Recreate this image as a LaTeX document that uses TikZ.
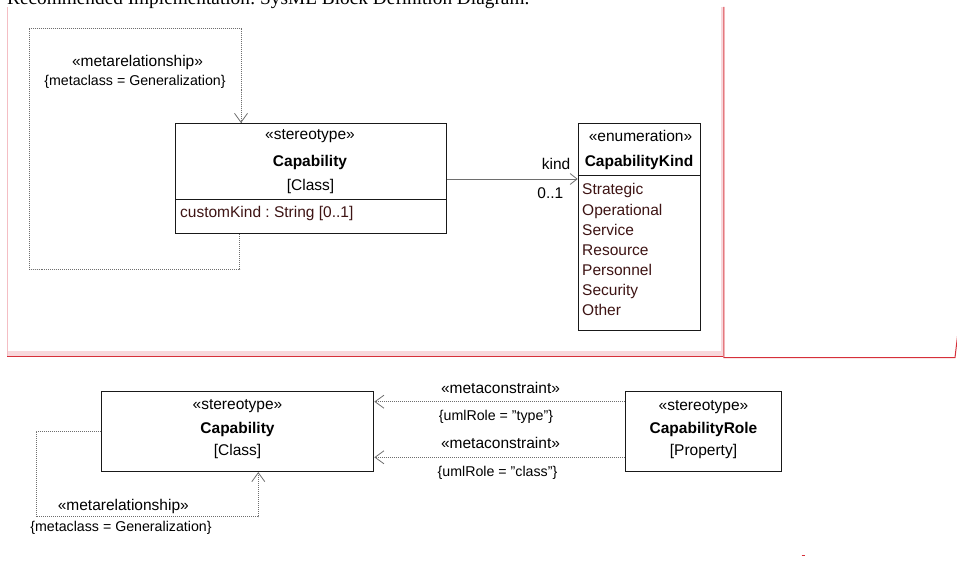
\documentclass[tikz,border=0pt]{standalone}
\usepackage{fontspec}
\setmainfont{Liberation Sans}
\newfontfamily\titlefont{Liberation Serif}
\usetikzlibrary{arrows.meta}
\definecolor{framered}{RGB}{214,48,58}
\definecolor{framepink}{RGB}{244,190,196}
\definecolor{bandpink}{RGB}{248,216,220}
\definecolor{lit}{RGB}{62,20,20}
\definecolor{conn}{RGB}{110,110,110}
\newcommand{\sq}{\symbol{34}}
\frenchspacing
\tikzset{
  box/.style={draw=black!90, line width=1pt, fill=white, inner sep=0pt},
  txt/.style={inner sep=0pt, font=\fontsize{15.5}{18}\selectfont},
  btxt/.style={inner sep=0pt, font=\fontsize{15.5}{18}\selectfont\bfseries},
  stxt/.style={inner sep=0pt, font=\fontsize{14.2}{17}\selectfont},
  littxt/.style={inner sep=0pt, font=\fontsize{15.5}{18}\selectfont, text=lit, anchor=base west},
  dotline/.style={draw=conn, line width=0.8pt, dash pattern=on 1pt off 1pt},
  barb/.style={-{Straight Barb[length=9pt,width=13pt,line width=0.8pt]}},
  assoc/.style={draw=conn, line width=0.9pt, -{Straight Barb[length=7pt,width=11pt,line width=0.8pt]}}
}
\begin{document}
\begin{tikzpicture}[x=1pt,y=-1pt]
\useasboundingbox (0,0) rectangle (957,561);
\clip (0,0) rectangle (957,561);
% title
\node[inner sep=0pt, anchor=base west, font=\titlefont\fontsize{19.3}{22}\selectfont] (title) at (7,5) {Recommended Implementation: SysML Block Definition Diagram.};
% frame
\fill[bandpink] (7,351) rectangle (723,356);
\fill[bandpink] (721,7) rectangle (723,351);
\draw[framepink, line width=0.9pt] (7,7) -- (7,357);
\draw[framered, line width=1pt] (7,356.5) -- (723,356.5);
\draw[framered, line width=1pt] (723.8,7) -- (723.8,357.5) -- (955,357.5) -- (957.5,336);
\draw[framered, line width=1pt] (801.5,555) -- (804.5,555);

% ---------- top diagram ----------
\node[box, minimum width=271pt, minimum height=110pt, anchor=north west] (cap1) at (175,123) {};
\draw[black!90, line width=1pt] (175,200) -- (446,200);
\node[txt, anchor=base] (cap1st) at (310,140) {«stereotype»};
\node[btxt, anchor=base] (cap1nm) at (310,166.7) {Capability};
\node[txt, anchor=base] (cap1mc) at (310.5,190.7) {[Class]};
\node[littxt] (cap1at) at (180,218) {customKind : String [0..1]};

\node[box, minimum width=122.6pt, minimum height=207pt, anchor=north west] (kind) at (577.7,123) {};
\draw[black!90, line width=1pt] (577.7,176) -- (700.3,176);
\node[txt, anchor=base] (kindst) at (640.5,141.7) {«enumeration»};
\node[btxt, anchor=base] (kindnm) at (639,166.7) {CapabilityKind};
\node[littxt] (l1) at (582,195) {Strategic};
\node[littxt] (l2) at (582,215) {Operational};
\node[littxt] (l3) at (582,235) {Service};
\node[littxt] (l4) at (582,255) {Resource};
\node[littxt] (l5) at (582,275) {Personnel};
\node[littxt] (l6) at (582,295) {Security};
\node[littxt] (l7) at (582,315.5) {Other};

\draw[assoc] (cap1.east |- 0,179) -- (kind.west |- 0,179);
\node[txt, anchor=base east] (kindlbl) at (570.5,169.3) {kind};
\node[txt, anchor=base east] (mult) at (563.5,198.3) {0..1};

\coordinate (g1a) at (29,269);
\coordinate (g1b) at (29,28);
\draw[dotline, barb] ([xshift=64.5pt]cap1.south west) |- (g1a) -- (g1b) -| ([xshift=66pt]cap1.north west);
\node[txt, anchor=base] (g1st) at (137.5,66.5) {«metarelationship»};
\node[stxt, anchor=base] (g1mc) at (135,86) {\{metaclass = Generalization\}};

% ---------- bottom diagram ----------
\node[box, minimum width=272.3pt, minimum height=80pt, anchor=north west] (cap2) at (101,391) {};
\node[txt, anchor=base] (cap2st) at (237.5,409.3) {«stereotype»};
\node[btxt, anchor=base] (cap2nm) at (237.5,433.3) {Capability};
\node[txt, anchor=base] (cap2mc) at (237.5,455.7) {[Class]};

\node[box, minimum width=156pt, minimum height=80pt, anchor=north west] (role) at (625,391) {};
\node[txt, anchor=base] (rolest) at (703.5,410) {«stereotype»};
\node[btxt, anchor=base] (rolenm) at (703.5,433.3) {CapabilityRole};
\node[txt, anchor=base] (rolemc) at (703.5,455.7) {[Property]};

\draw[dotline, barb] (role.west |- 0,401.7) -- (cap2.east |- 0,401.7);
\draw[dotline, barb] (role.west |- 0,457.3) -- (cap2.east |- 0,457.3);
\node[txt, anchor=base] (mc1) at (500.5,393.3) {«metaconstraint»};
\node[stxt, anchor=base] (mc1v) at (496,420) {\{umlRole = \sq type\sq\}};
\node[txt, anchor=base] (mc2) at (500.5,448.3) {«metaconstraint»};
\node[stxt, anchor=base] (mc2v) at (497.5,476) {\{umlRole = \sq class\sq\}};

\coordinate (g2a) at (36,431);
\coordinate (g2b) at (36,516.7);
\draw[dotline, barb] (cap2.west |- g2a) -- (g2a) -- (g2b) -| ([xshift=157.3pt]cap2.south west);
\node[txt, anchor=base] (g2st) at (123.3,510) {«metarelationship»};
\node[stxt, anchor=base] (g2mc) at (121,531.7) {\{metaclass = Generalization\}};
\end{tikzpicture}
\end{document}
